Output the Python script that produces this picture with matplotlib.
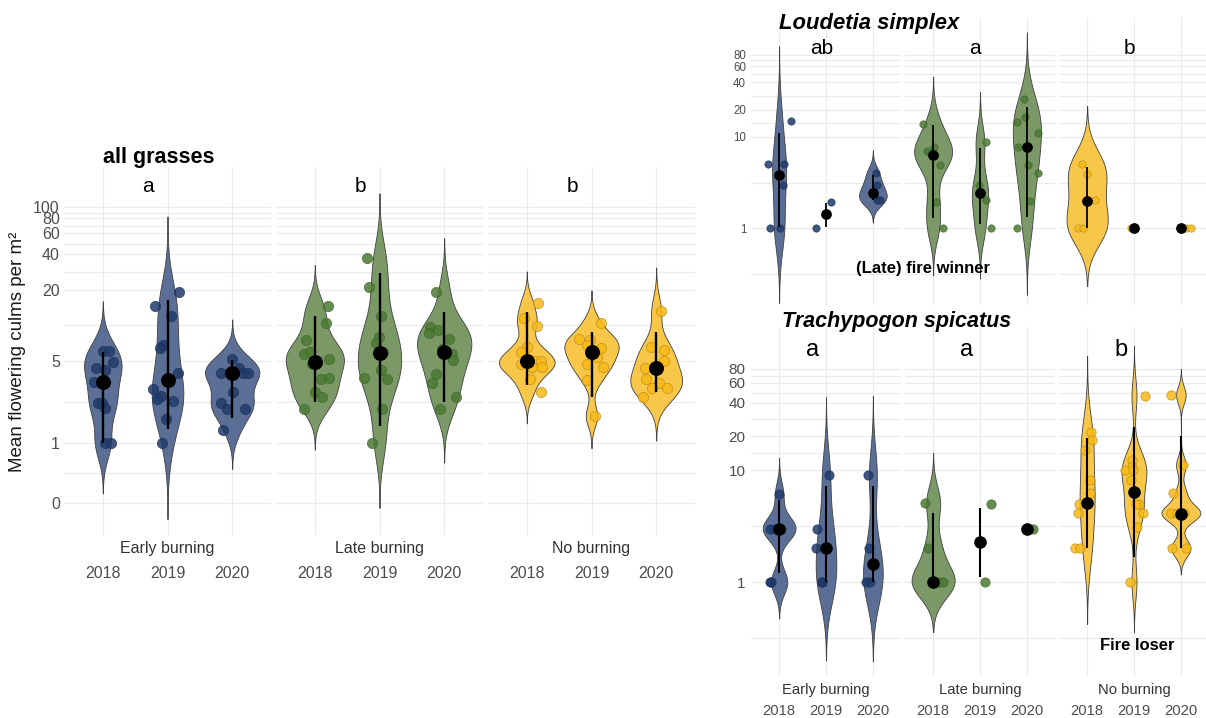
import numpy as np
import matplotlib.pyplot as plt

plt.rcParams['font.family'] = ['Liberation Sans', 'DejaVu Sans']

# DATA

years = ['2018', '2019', '2020']
treatments = ['Early burning', 'Late burning', 'No burning']

# all grasses, groups in order early 2018-2020, late 2018-2020, no burning 2018-2020
all_vals = [
    [6.0, 6.0, 4.9, 4.3, 4.2, 3.3, 2.2, 2.2, 2.0, 1.0, 1.0],
    [18.9, 14.5, 11.9, 6.8, 6.35, 3.9, 2.9, 2.5, 2.35, 2.3, 1.6, 1.0],
    [5.2, 3.9, 4.35, 3.9, 3.9, 2.7, 2.2, 1.95, 1.95, 1.3],
    [14.6, 10.5, 7.5, 5.7, 5.9, 4.7, 5.2, 3.5, 3.6, 2.7, 2.45, 1.95],
    [37.0, 21.0, 11.9, 8.0, 7.0, 5.9, 4.2, 3.6, 3.5, 1.95, 1.0],
    [19.2, 9.7, 8.5, 9.1, 7.6, 6.3, 5.7, 5.05, 3.85, 3.25, 2.45, 1.95],
    [15.5, 11.4, 9.9, 6.5, 5.9, 4.7, 5.0, 5.0, 4.4, 4.4, 3.5, 2.7],
    [10.5, 7.6, 7.5, 6.8, 6.4, 5.4, 4.7, 4.4, 3.4, 1.7],
    [13.2, 6.5, 6.2, 5.0, 4.35, 3.5, 3.25, 2.95, 2.95, 2.45],
]
all_jitter = [
    [0.01, 0.09, 0.15, -0.11, 0.04, -0.14, -0.07, -0.02, 0.04, 0.03, 0.13],
    [0.18, -0.19, 0.05, -0.07, -0.11, 0.17, -0.22, -0.10, -0.17, 0.09, -0.03, -0.09],
    [0.0, -0.17, 0.10, 0.17, 0.24, 0.01, -0.18, -0.08, 0.20, -0.14],
    [0.21, 0.18, -0.14, -0.16, -0.08, -0.05, 0.22, 0.09, 0.22, 0.0, 0.11, -0.16],
    [-0.19, -0.17, 0.03, -0.01, -0.05, 0.06, 0.03, -0.24, 0.11, 0.04, -0.11],
    [-0.13, -0.22, -0.24, -0.10, 0.07, -0.03, 0.12, 0.14, -0.13, -0.19, 0.18, -0.06],
    [0.17, -0.04, 0.15, 0.0, -0.09, -0.09, 0.13, 0.22, 0.08, 0.23, 0.05, 0.22],
    [0.14, -0.19, -0.02, -0.07, 0.15, 0.08, -0.07, 0.18, -0.07, 0.05],
    [0.08, -0.08, 0.12, 0.12, -0.18, -0.15, 0.05, -0.07, 0.17, -0.20],
]
all_mean = [3.27, 3.42, 3.94, 4.89, 5.75, 5.94, 4.98, 5.94, 4.32]
all_lo = [1.0, 1.33, 1.62, 2.24, 1.4, 2.24, 3.14, 2.47, 2.72]
all_hi = [5.9, 16.3, 5.05, 12.0, 27.7, 12.8, 13.0, 8.77, 8.77]
all_vwidth = [0.58, 0.49, 0.84, 0.90, 0.67, 0.84, 0.86, 0.84, 0.80]
all_letters = ['a', 'b', 'b']

# Loudetia simplex
lou_vals = [
    [15.0, 5.05, 5.05, 3.0, 1.0, 1.0],
    [1.95, 1.0],
    [4.05, 3.0, 2.5, 2.03, 2.03],
    [13.9, 7.1, 7.8, 6.6, 4.9, 1.95, 1.0],
    [8.75, 3.0, 2.03, 1.0],
    [26.0, 16.7, 14.7, 11.0, 7.7, 4.9, 4.0, 2.0, 1.0],
    [5.05, 3.9, 2.03, 1.0, 1.0],
    [1.0],
    [1.0, 1.0],
]
lou_jitter = [
    [0.25, -0.23, 0.11, 0.08, -0.19, 0.01],
    [0.11, -0.22],
    [0.06, 0.09, 0.0, 0.09, 0.16],
    [-0.21, -0.14, 0.02, -0.04, 0.14, 0.06, 0.20],
    [0.13, -0.02, 0.12, 0.23],
    [-0.07, -0.05, -0.22, 0.23, -0.19, 0.02, 0.23, 0.07, -0.22],
    [-0.10, 0.0, 0.16, -0.20, -0.08],
    [-0.06],
    [0.11, 0.21],
]
lou_mean = [3.82, 1.41, 2.4, 6.34, 2.44, 7.83, 1.98, 1.0, 1.0]
lou_lo = [1.03, 1.03, 2.03, 1.3, 1.1, 1.33, 1.0, np.nan, np.nan]
lou_hi = [11.0, 1.9, 3.82, 13.5, 7.5, 21.2, 4.72, np.nan, np.nan]
lou_vwidth = [0.30, 0.0, 0.59, 0.81, 0.35, 0.60, 0.88, 0.0, 0.0]
lou_letters = ['ab', 'a', 'b']

# Trachypogon spicatus
tra_vals = [
    [6.05, 3.0, 3.0, 3.0, 3.0, 1.0, 1.0],
    [9.0, 3.0, 2.02, 1.0, 1.0],
    [9.0, 2.0, 1.0, 1.0],
    [5.1, 2.02, 1.0, 1.0, 1.0],
    [4.97, 1.0],
    [3.0],
    [22.0, 18.5, 15.1, 8.1, 6.2, 5.0, 4.1, 2.0, 2.0],
    [45.8, 12.3, 10.7, 10.1, 10.1, 8.1, 5.0, 5.0, 4.1, 3.1, 1.0],
    [46.7, 11.1, 6.2, 4.1, 4.1, 4.1, 4.1, 2.0, 2.0],
]
tra_jitter = [
    [0.0, -0.19, -0.09, 0.0, 0.05, -0.20, -0.18],
    [0.07, -0.19, -0.21, -0.09, -0.08],
    [-0.10, -0.08, -0.15, -0.07],
    [-0.18, -0.12, 0.11, 0.21, 0.0],
    [0.23, 0.11],
    [0.14],
    [0.09, 0.11, -0.05, 0.07, 0.07, -0.18, -0.20, -0.25, -0.16],
    [0.24, -0.04, -0.04, -0.20, -0.02, -0.06, 0.10, 0.05, 0.19, 0.06, -0.09],
    [-0.21, 0.04, -0.16, -0.21, -0.09, 0.06, 0.0, -0.19, 0.11],
]
tra_mean = [3.0, 2.02, 1.44, 1.0, 2.26, 3.0, 5.04, 6.4, 4.02]
tra_lo = [1.21, 1.0, 1.0, 1.0, 1.1, np.nan, 2.0, 1.68, 2.0]
tra_hi = [5.4, 7.2, 7.2, 4.16, 4.61, np.nan, 19.2, 24.4, 20.0]
tra_vwidth = [0.70, 0.44, 0.42, 0.92, 0.0, 0.0, 0.32, 0.53, 0.83]
tra_letters = ['a', 'a', 'b']

# STYLE

fills = ['#5b6f96', '#7b9966', '#f8c74a']
dots = ['#1f3a6b', '#4b7a34', '#f7b916']
dot_edges = ['#1a2f57', '#3d6429', '#b88a12']
grid_col = '#ebebeb'
tick_col = '#4d4d4d'

W, H = 1206, 718
fig = plt.figure(figsize=(W / 100, H / 100), dpi=100)


# converts a pixel box (left, top, right, bottom) into a figure axes rectangle
def box(x0, y0, x1, y1):
    return [x0 / W, 1 - y1 / H, (x1 - x0) / W, (y1 - y0) / H]


# silverman rule of thumb bandwidth, like R's bw.nrd0
def bw_nrd0(t):
    sd = np.std(t, ddof=1)
    q75, q25 = np.percentile(t, [75, 25])
    lo = min(sd, (q75 - q25) / 1.34)
    if lo == 0:
        lo = sd
    return 0.9 * lo * len(t) ** -0.2


# draws one whole panel made of three facets (early, late, no burning)
def draw_panel(facet_boxes, vals, jitter, mean, lo, hi, vwidth, letters, scale,
               ylim, majors, minors, letter_xy, sty, show_x):
    axes = []
    for f, fb in enumerate(facet_boxes):
        ax = fig.add_axes(box(*fb))
        if scale == 'symlog':
            ax.set_yscale('symlog', linthresh=1, linscale=0.457)
        else:
            ax.set_yscale('log')
        ax.set_xlim(0.4, 3.6)
        ax.set_ylim(*ylim)
        tr = ax.yaxis.get_transform()
        for k in range(3):
            g = f * 3 + k
            xc = k + 1
            v = np.asarray(vals[g], float)
            t = tr.transform(v)
            if len(v) >= 3 and np.std(t) > 0 and vwidth[g] > 0:
                bw = bw_nrd0(t)
                grid = np.linspace(t.min() - 3 * bw, t.max() + 3 * bw, 600)
                dens = np.exp(-0.5 * ((grid[:, None] - t[None, :]) / bw) ** 2).sum(1)
                hw = dens / dens.max() * vwidth[g] / 2
                yy = tr.inverted().transform(grid)
                ax.fill_betweenx(yy, xc - hw, xc + hw, facecolor=fills[f],
                                 edgecolor='#404040', linewidth=0.6, zorder=2)
            ax.scatter(xc + np.asarray(jitter[g]), v, s=sty['pt'], color=dots[f],
                       edgecolor=dot_edges[f], linewidth=0.5, alpha=0.85, zorder=3)
            if not np.isnan(lo[g]):
                ax.plot([xc, xc], [lo[g], hi[g]], color='black', lw=sty['lw'],
                        solid_capstyle='butt', zorder=4)
            ax.scatter([xc], [mean[g]], s=sty['mean'], color='black', zorder=5)
        ax.text(letter_xy[0], letter_xy[1], letters[f], ha='center', va='center',
                fontsize=sty['letter'], color='black')
        ax.set_yticks(majors)
        ax.set_yticks(minors, minor=True)
        ax.set_yticklabels([str(m) for m in majors])
        ax.yaxis.set_minor_formatter(plt.NullFormatter())
        ax.set_xticks([1, 2, 3])
        ax.grid(True, which='both', color=grid_col, lw=0.8, zorder=0)
        ax.set_axisbelow(True)
        for s in ax.spines.values():
            s.set_visible(False)
        ax.tick_params(which='both', length=0)
        ax.tick_params(axis='y', labelsize=sty['ytick'], labelcolor=tick_col,
                       pad=sty['ypad'], labelleft=(f == 0))
        ax.set_xticklabels([])
        if show_x:
            for k in range(3):
                ax.annotate(years[k], xy=(k + 1, 0), xycoords=('data', 'axes fraction'),
                            xytext=(0, -sty['year_off']), textcoords='offset points',
                            ha='center', va='center', fontsize=sty['xtick'], color=tick_col)
            ax.annotate(treatments[f], xy=(2, 0), xycoords=('data', 'axes fraction'),
                        xytext=(0, -sty['trt_off']), textcoords='offset points',
                        ha='center', va='center', fontsize=sty['xtick'], color='#333333')
        axes.append(ax)
    return axes


left_style = dict(pt=55, mean=95, lw=1.7, letter=15, ytick=11.5, ypad=3,
                  xtick=11.5, year_off=27.4, trt_off=10)
top_style = dict(pt=28, mean=45, lw=1.3, letter=15, ytick=8.3, ypad=3.5,
                 xtick=10.6, year_off=24.5, trt_off=9.4)
bot_style = dict(pt=45, mean=65, lw=1.5, letter=17, ytick=11, ypad=4,
                 xtick=10.6, year_off=24.5, trt_off=9.4)

# MAIN SCRIPT

draw_panel([(64, 167, 271, 535), (276, 167, 483, 535), (488, 167, 695, 535)],
           all_vals, all_jitter, all_mean, all_lo, all_hi, all_vwidth, all_letters,
           'symlog', (-0.53, 218), [0, 1, 5, 20, 40, 60, 80, 100],
           [0.5, 2.236, 10, 28.3, 49, 69.3, 89.4], (1.7, 148), left_style, True)

draw_panel([(751, 18, 901, 305), (905, 18, 1055, 305), (1059, 18, 1209, 305)],
           lou_vals, lou_jitter, lou_mean, lou_lo, lou_hi, lou_vwidth, lou_letters,
           'log', (0.1426, 203), [1, 10, 20, 40, 60, 80],
           [0.316, 3.16, 14.1, 28.3, 49, 69.3], (1.9, 95), top_style, False)

draw_panel([(751, 327, 901, 677), (905, 327, 1055, 677), (1059, 327, 1209, 677)],
           tra_vals, tra_jitter, tra_mean, tra_lo, tra_hi, tra_vwidth, tra_letters,
           'log', (0.142, 189), [1, 10, 20, 40, 60, 80],
           [0.316, 3.16, 14.1, 28.3, 49, 69.3], (1.72, 118), bot_style, True)

# titles, axis label and notes
fig.text(103 / W, 1 - 158 / H, 'all grasses', fontsize=15.5, fontweight='bold',
         ha='left', va='center')
fig.text(779 / W, 1 - 23 / H, 'Loudetia simplex', fontsize=15.8, fontweight='bold',
         fontstyle='italic', ha='left', va='center')
fig.text(782 / W, 1 - 322 / H, 'Trachypogon spicatus', fontsize=15.5, fontweight='bold',
         fontstyle='italic', ha='left', va='center')
fig.text(18 / W, 1 - 352 / H, 'Mean flowering culms per m²', fontsize=13.5,
         rotation=90, ha='center', va='center', color='#1a1a1a')
fig.text(923 / W, 1 - 268 / H, '(Late) fire winner', fontsize=12, fontweight='bold',
         ha='center', va='center')
fig.text(1137 / W, 1 - 646 / H, 'Fire loser', fontsize=12, fontweight='bold',
         ha='center', va='center')

fig.savefig('out.png', dpi=100, facecolor='white')
